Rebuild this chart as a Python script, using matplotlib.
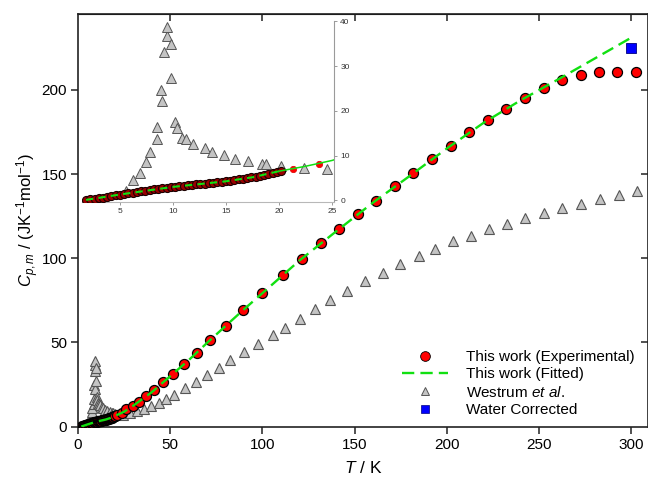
import matplotlib
matplotlib.use("Agg")
import matplotlib.pyplot as plt
from matplotlib.lines import Line2D
import numpy as np

plt.rcParams['font.family'] = ['Liberation Sans', 'DejaVu Sans']
plt.rcParams['mathtext.fontset'] = 'custom'
plt.rcParams['mathtext.rm'] = 'Liberation Sans'
plt.rcParams['mathtext.it'] = 'Liberation Sans:italic'

# ---------------- data ----------------
# This work (experimental) - dense low-T data
T_low = [1.8, 2.2, 2.6, 3.0, 3.4, 3.8, 4.2, 4.6, 5.0, 5.4, 5.8, 6.2, 6.6, 7.0, 7.4,
         7.8, 8.2, 8.6, 9.0, 9.4, 9.8, 10.2, 10.6, 11.0, 11.4, 11.8, 12.2, 12.6,
         13.0, 13.4, 13.8, 14.2, 14.6, 15.0, 15.4, 15.8, 16.2, 16.6, 17.0, 17.4,
         17.8, 18.2, 18.6, 19.0, 19.4, 19.8, 20.2]
Cp_low = [0.10, 0.22, 0.36, 0.48, 0.62, 0.78, 0.93, 1.10, 1.30, 1.45, 1.58, 1.72,
          1.85, 2.00, 2.15, 2.30, 2.45, 2.58, 2.70, 2.82, 2.94, 3.05, 3.15, 3.25,
          3.35, 3.45, 3.55, 3.65, 3.75, 3.85, 3.95, 4.05, 4.15, 4.25, 4.38, 4.52,
          4.66, 4.80, 4.95, 5.10, 5.28, 5.46, 5.66, 5.86, 6.06, 6.28, 6.50]
# This work (experimental) - sparse data
T_exp = [21.3, 23.8, 26.0, 29.6, 33.2, 36.7, 41.2, 45.9, 51.5, 57.3, 64.3, 71.5,
         80.0, 89.4, 99.8, 111.1, 121.2, 131.5, 141.5, 151.6, 161.5, 171.8, 181.8,
         191.9, 202.0, 212.1, 222.3, 232.2, 242.5, 252.4, 262.5, 272.5, 282.4,
         292.3, 302.4]
Cp_exp = [6.9, 8.2, 10.3, 12.5, 14.6, 18.4, 21.9, 26.3, 31.4, 37.4, 43.5, 51.4,
          59.7, 69.4, 79.1, 90.2, 99.5, 108.8, 117.3, 126.2, 134.2, 142.7, 150.6,
          158.7, 166.8, 174.7, 182.1, 188.6, 195.0, 200.9, 205.6, 208.6, 210.8,
          210.4, 210.4]
# This work (fitted)
T_fit = [1.8, 5, 10, 15, 17.5, 20, 22.5, 25, 30, 40, 50, 60, 70, 80, 90, 100, 120,
         140, 160, 180, 200, 220, 240, 260, 280, 300]
Cp_fit = [0.1, 1.3, 3.0, 4.25, 5.15, 6.5, 7.6, 8.9, 12.5, 20.5, 30.0, 39.5, 49.8,
          59.8, 69.7, 79.3, 98.6, 116.0, 133.1, 149.0, 165.2, 180.5, 193.8, 206.0,
          218.5, 231.0]
# Westrum et al.
T_wes = [5.54, 6.26, 6.86, 7.5, 7.86, 8.5, 8.52, 8.9, 8.96, 9.2, 9.46, 9.46, 9.78,
         9.8, 10.2, 10.4, 10.9, 11.2, 11.9, 13.0, 13.7, 14.8, 15.9, 17.1, 18.4,
         18.8, 20.2, 22.4, 24.5, 28.2, 32.0, 35.6, 39.4, 43.7, 47.5, 52.0, 58.2,
         63.9, 70.1, 76.2, 82.4, 90.0, 97.6, 105.7, 112.2, 120.5, 128.6, 136.8,
         145.9, 155.7, 165.4, 174.8, 184.6, 193.6, 203.3, 213.0, 222.8, 232.7,
         242.5, 252.4, 262.5, 272.5, 282.8, 293.1, 303.2]
Cp_wes = [2.1, 4.5, 6.1, 8.6, 10.9, 13.6, 16.3, 24.7, 22.2, 33.2, 36.7, 38.8, 35.0,
          27.3, 17.4, 16.1, 14.0, 13.6, 12.6, 11.6, 10.9, 10.1, 9.3, 8.8, 8.1,
          8.1, 7.6, 7.3, 7.0, 8.0, 9.1, 10.5, 12.3, 13.8, 16.2, 18.8, 22.8,
          26.7, 30.5, 35.0, 39.6, 44.1, 49.0, 54.4, 58.7, 64.1, 69.8, 75.2,
          80.6, 86.2, 91.5, 96.5, 101.4, 105.4, 110.0, 113.5, 117.1, 120.6,
          124.0, 126.9, 129.7, 132.1, 135.0, 137.8, 139.9]
# Water corrected
T_wat = [300.0]
Cp_wat = [224.6]

labels = ['This work (Experimental)', 'This work (Fitted)',
          r'Westrum $\mathit{et\ al.}$', 'Water Corrected']

GREEN = '#11e011'
RED = '#ff0000'
GRAY_FILL = '#c4c4c4'
GRAY_EDGE = '#555555'

W, H = 648, 479
fig = plt.figure(figsize=(W / 100, H / 100), dpi=100)
ax = fig.add_axes([78 / W, (H - 426.7) / H, 570 / W, 412.7 / H])

ax.plot(T_wes, Cp_wes, ls='none', marker='^', ms=7.8, mfc=GRAY_FILL, mec=GRAY_EDGE,
        mew=0.8, zorder=2)
ax.plot(T_low, Cp_low, ls='none', marker='o', ms=7.2, mfc=RED, mec='black',
        mew=0.9, zorder=3)
ax.plot(T_exp, Cp_exp, ls='none', marker='o', ms=7.2, mfc=RED, mec='black',
        mew=0.9, zorder=3)
ax.plot(T_fit, Cp_fit, color=GREEN, lw=1.7, ls=(0, (5.2, 2.6)), zorder=4)
ax.plot(T_wat, Cp_wat, ls='none', marker='s', ms=6.8, mfc='#0000ff', mec='#000080',
        mew=0.6, zorder=5)

ax.set_xlim(0, 309)
ax.set_ylim(0, 245)
ax.set_xticks([0, 50, 100, 150, 200, 250, 300])
ax.set_yticks([0, 50, 100, 150, 200])
ax.tick_params(direction='out', length=5, width=1.1, labelsize=11, colors='#222222',
               labelcolor='black', pad=3)
for s in ax.spines.values():
    s.set_linewidth(1.2)
    s.set_color('#222222')
sx = ax.secondary_xaxis('top')
sx.set_xticks([50, 100, 150, 200, 250, 300])
sx.tick_params(direction='in', length=5, width=1.1, labeltop=False, colors='#222222')
sy = ax.secondary_yaxis('right')
sy.set_yticks([50, 100, 150, 200])
sy.tick_params(direction='in', length=5, width=1.1, labelright=False, colors='#222222')

ax.set_xlabel(r'$T$ / K', fontsize=12.5, labelpad=6)
ax.set_ylabel(r'$C_{p,m}$ / (JK$^{-1}$mol$^{-1}$)', fontsize=12)
ax.yaxis.set_label_coords(-0.065, 0.5)

handles = [
    Line2D([], [], ls='none', marker='o', ms=7.0, mfc=RED, mec='black', mew=0.6),
    Line2D([], [], color=GREEN, lw=1.7, ls=(0, (5.2, 2.6))),
    Line2D([], [], ls='none', marker='^', ms=6.0, mfc=GRAY_FILL, mec=GRAY_EDGE, mew=0.7),
    Line2D([], [], ls='none', marker='s', ms=6.0, mfc='#0000ff', mec='#000080', mew=0.5),
]
ax.legend(handles, labels, loc='lower right',
          bbox_to_anchor=(635 / W, (H - 417) / H), bbox_transform=fig.transFigure,
          frameon=False, fontsize=11, handlelength=3.0, handletextpad=1.2,
          labelspacing=0.22, borderpad=0.0, borderaxespad=0.0)

# ---------------- inset ----------------
ia = fig.add_axes([81.8 / W, (H - 201.8) / H, 252.2 / W, 180.5 / H])
ia.patch.set_alpha(0)
ia.plot(T_wes, Cp_wes, ls='none', marker='^', ms=6.6, mfc=GRAY_FILL, mec=GRAY_EDGE,
        mew=0.7, zorder=2)
ia.plot(T_low, Cp_low, ls='none', marker='o', ms=5.8, mfc='#9a0000', mec='#1a0000',
        mew=0.8, zorder=3)
ia.plot(T_exp, Cp_exp, ls='none', marker='o', ms=4.6, mfc=RED, mec='#dd0000',
        mew=0.5, zorder=3)
Tf = np.array(T_fit)
Cf = np.array(Cp_fit)
m1 = Tf <= 20.0
m2 = Tf >= 20.0
ia.plot(Tf[m1], Cf[m1], color=GREEN, lw=1.5, ls=(0, (3.5, 2.5)), zorder=4)
ia.plot(Tf[m2], Cf[m2], color=GREEN, lw=1.1, zorder=4)
ia.set_xlim(1.4, 25.2)
ia.set_ylim(-0.33, 40)
ia.set_xticks([5, 10, 15, 20, 25])
ia.set_yticks([0, 10, 20, 30, 40])
ia.yaxis.tick_right()
ia.spines['left'].set_visible(False)
ia.spines['top'].set_visible(False)
ia.spines['right'].set_color('#9a9a9a')
ia.spines['bottom'].set_color('#b8b8b8')
ia.spines['right'].set_linewidth(0.8)
ia.spines['bottom'].set_linewidth(0.8)
ia.tick_params(axis='both', labelsize=6, colors='#9a9a9a', labelcolor='#333333',
               length=2.5, width=0.7, pad=2)

fig.savefig('out.png', dpi=100)
